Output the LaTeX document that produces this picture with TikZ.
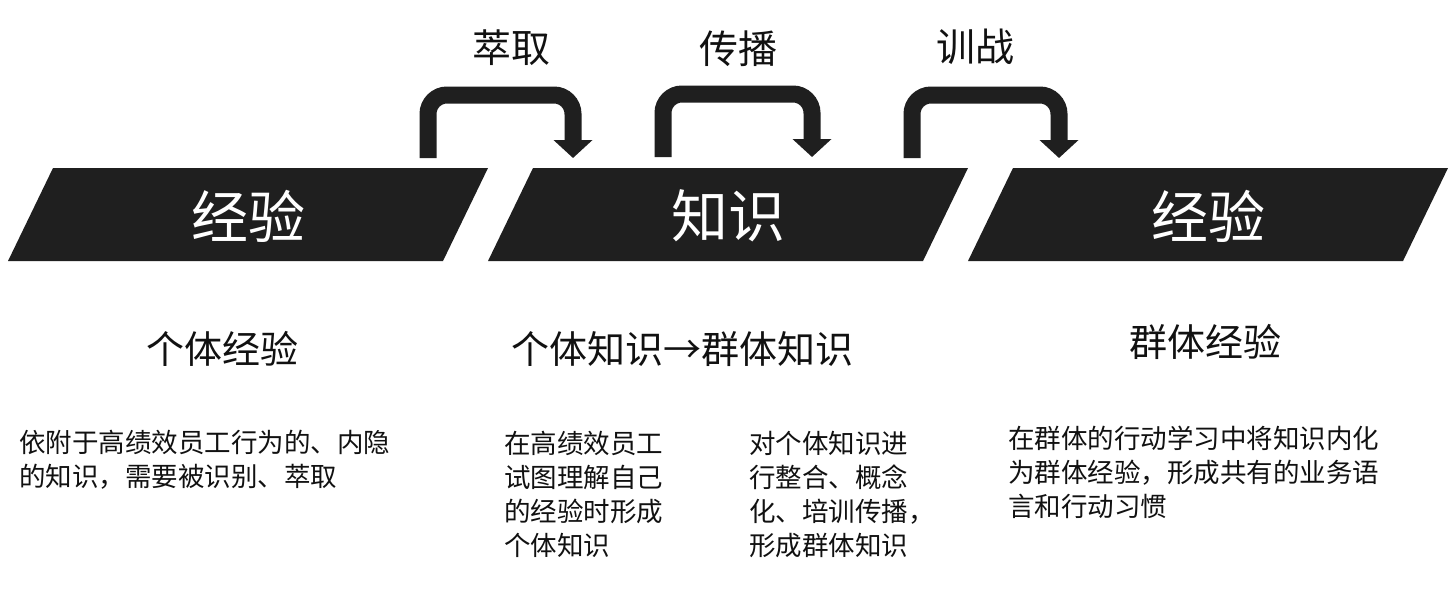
\documentclass[tikz,border=0pt]{standalone}
\usepackage{fontspec}
\setmainfont{Noto Sans CJK SC}
\usetikzlibrary{arrows.meta}
\definecolor{boxc}{HTML}{1F1F1F}
\definecolor{txt}{HTML}{111111}
\tikzset{
  band/.style={fill=boxc, draw=none},
  bandtext/.style={text=white, font=\fontsize{57}{60}\selectfont, inner sep=0},
  hooparrow/.style={draw=boxc, line width=17pt, rounded corners=19pt, -{Triangle[width=38pt,length=18pt]}},
  steplabel/.style={text=txt, font=\fontsize{39}{42}\selectfont, inner sep=0},
  subtitle/.style={text=txt, font=\fontsize{38}{42}\selectfont, inner sep=0},
  body/.style={text=txt, font=\fontsize{26.5}{34}\selectfont, inner sep=0, align=left, anchor=north west}
}
\begin{document}
\begin{tikzpicture}[x=1pt,y=-1pt]
\useasboundingbox[fill=white] (0,0) rectangle (1453,602);
% bands
\fill[band] (8,261) -- (53,168) -- (488,168) -- (443,261) -- cycle;
\fill[band] (488,261) -- (533,168) -- (968,168) -- (923,261) -- cycle;
\fill[band] (968,261) -- (1013,168) -- (1448,168) -- (1403,261) -- cycle;
\node[bandtext] (b1) at (248,216) {经验};
\node[bandtext] (b2) at (728,216) {知识};
\node[bandtext] (b3) at (1208,216) {经验};
% bent arrows
\coordinate (a1s) at (428,158); \coordinate (a1t) at (500,95); \coordinate (a1e) at (573,158);
\coordinate (a2s) at (663,157); \coordinate (a2t) at (738,94); \coordinate (a2e) at (812,157);
\coordinate (a3s) at (912,158); \coordinate (a3t) at (985,95); \coordinate (a3e) at (1059,158);
\draw[hooparrow] (a1s) |- (a1t) -| (a1e);
\draw[hooparrow] (a2s) |- (a2t) -| (a2e);
\draw[hooparrow] (a3s) |- (a3t) -| (a3e);
\node[steplabel] (l1) at (511,48) {萃取};
\node[steplabel] (l2) at (738,49) {传播};
\node[steplabel] (l3) at (975,47) {训战};
% subtitles
\node[subtitle] (s1) at (222,349) {个体经验};
\node[subtitle] (s2) at (682,349) {个体知识→群体知识};
\node[subtitle] (s3) at (1205,342) {群体经验};
% body texts
\node[body] (t1) at (19,430) {依附于高绩效员工行为的、内隐\\的知识，需要被识别、萃取};
\node[body] (t2) at (504,431) {在高绩效员工\\试图理解自己\\的经验时形成\\个体知识};
\node[body] (t3) at (749,431) {对个体知识进\\行整合、概念\\化、培训传播，\\形成群体知识};
\node[body] (t4) at (1008,426) {在群体的行动学习中将知识内化\\为群体经验，形成共有的业务语\\言和行动习惯};
\end{tikzpicture}
\end{document}
